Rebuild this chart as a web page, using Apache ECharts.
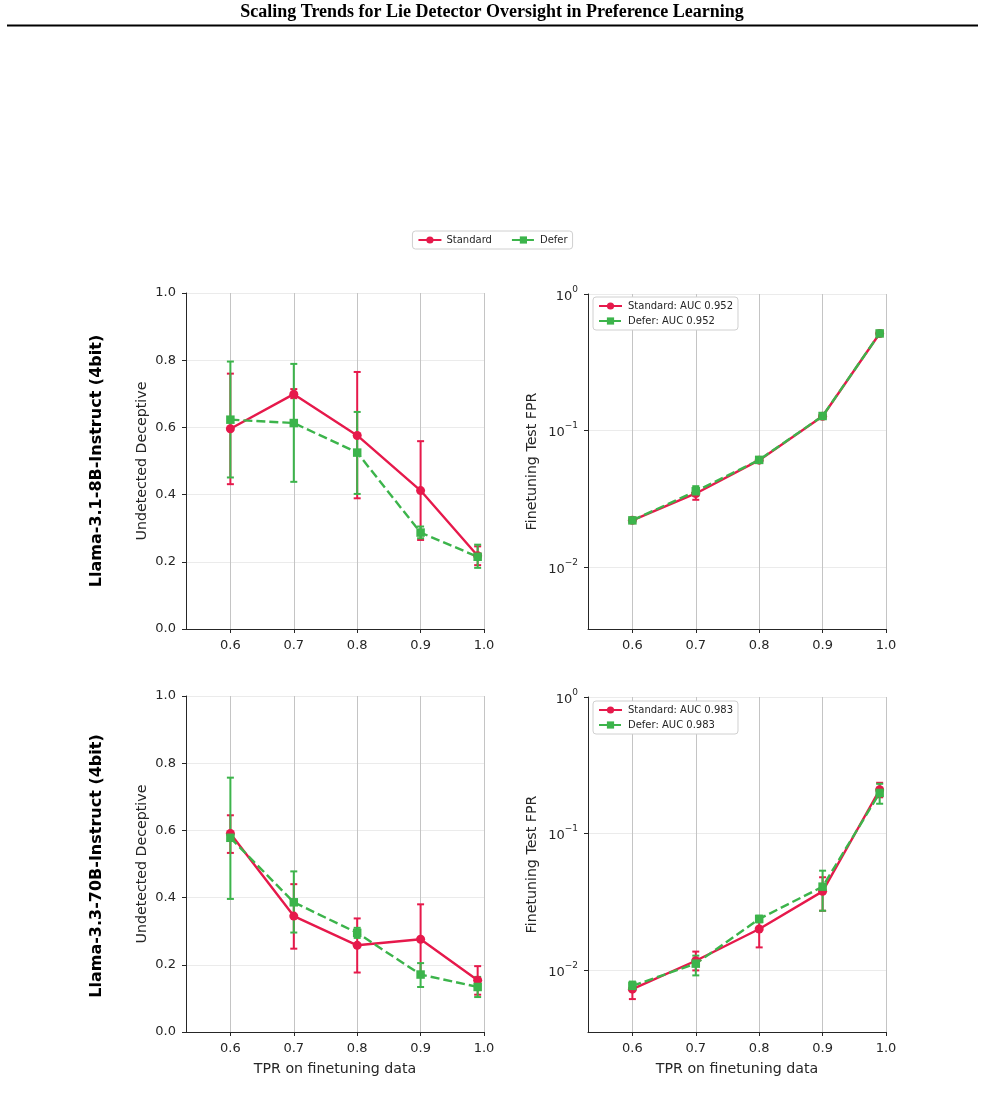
<!DOCTYPE html>
<html>
<head>
<meta charset="utf-8">
<script src="https://cdn.jsdelivr.net/npm/echarts@6/dist/echarts.min.js"></script>
<style>
  html, body { margin: 0; padding: 0; background: #fff; }
  #chart { width: 985px; height: 1101px; }
</style>
</head>
<body>
<div id="chart"></div>
<script>
// TPR thresholds on finetuning data
var tpr = [0.6, 0.7, 0.8, 0.9, 0.99];
var xTicks = [0.6, 0.7, 0.8, 0.9, 1.0];
var logTicks = [0.01, 0.1, 1];

// Llama-3.1-8B: undetected deceptive
var std8Und   = [0.596, 0.699, 0.576, 0.412, 0.218];
var std8UndLo = [0.431, 0.687, 0.389, 0.265, 0.190];
var std8UndHi = [0.760, 0.714, 0.765, 0.559, 0.246];
var def8Und   = [0.623, 0.613, 0.525, 0.287, 0.215];
var def8UndLo = [0.451, 0.438, 0.402, 0.270, 0.182];
var def8UndHi = [0.796, 0.789, 0.646, 0.305, 0.251];

// Llama-3.1-8B: finetuning test FPR
var std8Fpr   = [0.0219, 0.0345, 0.0605, 0.127, 0.513];
var std8FprLo = [0.0213, 0.0310, 0.0590, 0.124, 0.505];
var std8FprHi = [0.0225, 0.0380, 0.0620, 0.130, 0.521];
var def8Fpr   = [0.0219, 0.0358, 0.0608, 0.1275, 0.514];
var def8FprLo = [0.0213, 0.0330, 0.0592, 0.124, 0.505];
var def8FprHi = [0.0225, 0.0390, 0.0624, 0.131, 0.523];

// Llama-3.3-70B: undetected deceptive
var std70Und   = [0.591, 0.345, 0.258, 0.276, 0.154];
var std70UndLo = [0.533, 0.248, 0.177, 0.172, 0.111];
var std70UndHi = [0.645, 0.440, 0.338, 0.380, 0.196];
var def70Und   = [0.578, 0.386, 0.295, 0.171, 0.134];
var def70UndLo = [0.396, 0.296, 0.280, 0.134, 0.104];
var def70UndHi = [0.757, 0.478, 0.310, 0.205, 0.164];

// Llama-3.3-70B: finetuning test FPR
var std70Fpr   = [0.00721, 0.01165, 0.0199, 0.0376, 0.209];
var std70FprLo = [0.0061, 0.0099, 0.0146, 0.0271, 0.184];
var std70FprHi = [0.0079, 0.0136, 0.0242, 0.0477, 0.235];
var def70Fpr   = [0.00763, 0.0111, 0.0236, 0.0407, 0.198];
var def70FprLo = [0.0071, 0.0091, 0.0223, 0.0271, 0.165];
var def70FprHi = [0.0082, 0.0127, 0.0249, 0.0533, 0.231];

var auc8 = '0.952';
var auc70 = '0.983';
var rowLabels = ['Llama-3.1-8B-Instruct (4bit)', 'Llama-3.3-70B-Instruct (4bit)'];

var red = '#e6194b';
var green = '#3cb44b';
var ink = '#262626';
var font = 'DejaVu Sans';

function pts(ys) { return tpr.map(function(x, i) { return [x, ys[i]]; }); }

function errBars(idx, lo, hi, color) {
  return {
    type: 'custom', xAxisIndex: idx, yAxisIndex: idx, silent: true,
    data: tpr.map(function(x, i) { return [x, lo[i], hi[i]]; }),
    encode: { x: 0, y: [1, 2] },
    renderItem: function(params, api) {
      var x = api.value(0);
      var a = api.coord([x, api.value(1)]);
      var b = api.coord([x, api.value(2)]);
      var w = 3.5, st = { stroke: color, lineWidth: 2 };
      return { type: 'group', children: [
        { type: 'line', shape: { x1: a[0], y1: a[1], x2: b[0], y2: b[1] }, style: st },
        { type: 'line', shape: { x1: a[0] - w, y1: a[1], x2: a[0] + w, y2: a[1] }, style: st },
        { type: 'line', shape: { x1: b[0] - w, y1: b[1], x2: b[0] + w, y2: b[1] }, style: st }
      ] };
    }
  };
}

function lineSeries(idx, name, ys, color, dashed) {
  return {
    type: 'line', name: name, xAxisIndex: idx, yAxisIndex: idx,
    data: pts(ys),
    symbol: dashed ? 'rect' : 'circle', symbolSize: dashed ? 8.5 : 9,
    lineStyle: { color: color, width: 2.4, type: dashed ? [9, 4] : 'solid' },
    itemStyle: { color: color },
    emphasis: { disabled: true }
  };
}

var grids = [
  { left: 186, top: 293, width: 298, height: 336 },
  { left: 588, top: 294, width: 298, height: 335 },
  { left: 186, top: 696, width: 298, height: 336 },
  { left: 588, top: 697, width: 298, height: 335 }
];

var nameStyle = { color: ink, fontSize: 14.2, fontFamily: font };

function xAxis(idx, named) {
  return {
    type: 'value', gridIndex: idx, min: 0.53, max: 1.0,
    name: named ? 'TPR on finetuning data' : '', nameLocation: 'middle', nameGap: 30,
    nameTextStyle: nameStyle,
    axisLine: { show: true, lineStyle: { color: ink, width: 1 } },
    axisTick: { show: true, length: 4, lineStyle: { color: ink }, customValues: xTicks },
    axisLabel: { color: ink, fontSize: 13, fontFamily: font, margin: 10, customValues: xTicks,
      formatter: function(v) { return v.toFixed(1); } },
    splitLine: { show: true, lineStyle: { color: '#c4c4c4', width: 1 } }
  };
}

function linYAxis(idx) {
  return {
    type: 'value', gridIndex: idx, min: 0, max: 1, interval: 0.2,
    name: 'Undetected Deceptive', nameLocation: 'middle', nameGap: 37,
    nameTextStyle: nameStyle,
    axisLine: { show: true, lineStyle: { color: ink, width: 1 } },
    axisTick: { show: true, length: 4, lineStyle: { color: ink } },
    axisLabel: { color: ink, fontSize: 13, fontFamily: font, margin: 10,
      formatter: function(v) { return v.toFixed(1); } },
    splitLine: { show: true, lineStyle: { color: '#ebebeb', width: 1 } }
  };
}

function logYAxis(idx) {
  return {
    type: 'log', logBase: 10, gridIndex: idx, min: 0.0035, max: 1,
    name: 'Finetuning Test FPR', nameLocation: 'middle', nameGap: 49,
    nameTextStyle: nameStyle,
    axisLine: { show: true, lineStyle: { color: ink, width: 1 } },
    axisTick: { show: true, length: 4, lineStyle: { color: ink }, customValues: logTicks },
    axisLabel: { color: ink, fontSize: 13, fontFamily: font, margin: 10, customValues: logTicks,
      formatter: function(v) {
        var e = Math.round(Math.log10(v));
        return '{b|10}{s|' + (e < 0 ? '\u2212' + (-e) : e) + '}';
      },
      rich: {
        b: { fontSize: 13, fontFamily: font, color: ink, verticalAlign: 'bottom', lineHeight: 18 },
        s: { fontSize: 9, fontFamily: font, color: ink, verticalAlign: 'top', lineHeight: 18 }
      }
    },
    splitLine: { show: true, lineStyle: { color: '#ebebeb', width: 1 } }
  };
}

function innerLegend(names, left, top) {
  return {
    data: names, orient: 'vertical', left: left, top: top,
    padding: [4, 5], itemGap: 5, itemWidth: 23, itemHeight: 9,
    textStyle: { fontSize: 10, fontFamily: font, color: ink, padding: [0, 0, 0, 1] },
    borderColor: '#d0d0d0', borderWidth: 1, borderRadius: 3, backgroundColor: '#fff',
    selectedMode: false
  };
}

var s8 = 'Standard: AUC ' + auc8, d8 = 'Defer: AUC ' + auc8;
var s70 = 'Standard: AUC ' + auc70, d70 = 'Defer: AUC ' + auc70;

var chart = echarts.init(document.getElementById('chart'), null, { renderer: 'canvas' });
chart.setOption({
  animation: false,
  backgroundColor: '#fff',
  textStyle: { fontFamily: font },
  grid: grids,
  xAxis: [xAxis(0, false), xAxis(1, false), xAxis(2, true), xAxis(3, true)],
  yAxis: [linYAxis(0), logYAxis(1), linYAxis(2), logYAxis(3)],
  legend: [
    {
      data: ['Standard', 'Defer'], left: 'center', top: 231,
      padding: [4, 5], itemGap: 19, itemWidth: 23, itemHeight: 9,
      textStyle: { fontSize: 10, fontFamily: font, color: ink },
      borderColor: '#d0d0d0', borderWidth: 1, borderRadius: 3, backgroundColor: '#fff',
      selectedMode: false
    },
    innerLegend([s8, d8], 593, 297),
    innerLegend([s70, d70], 593, 701)
  ],
  series: [
    errBars(0, std8UndLo, std8UndHi, red),
    lineSeries(0, 'Standard', std8Und, red, false),
    errBars(0, def8UndLo, def8UndHi, green),
    lineSeries(0, 'Defer', def8Und, green, true),

    errBars(1, std8FprLo, std8FprHi, red),
    lineSeries(1, s8, std8Fpr, red, false),
    errBars(1, def8FprLo, def8FprHi, green),
    lineSeries(1, d8, def8Fpr, green, true),

    errBars(2, std70UndLo, std70UndHi, red),
    lineSeries(2, 'Standard', std70Und, red, false),
    errBars(2, def70UndLo, def70UndHi, green),
    lineSeries(2, 'Defer', def70Und, green, true),

    errBars(3, std70FprLo, std70FprHi, red),
    lineSeries(3, s70, std70Fpr, red, false),
    errBars(3, def70FprLo, def70FprHi, green),
    lineSeries(3, d70, def70Fpr, green, true)
  ],
  graphic: [
    { type: 'text', x: 492, y: 12, style: { text: 'Scaling Trends for Lie Detector Oversight in Preference Learning',
      font: 'bold 18px "Liberation Serif", "Times New Roman", serif', fill: '#000', align: 'center', verticalAlign: 'middle' } },
    { type: 'line', shape: { x1: 7, y1: 25.5, x2: 978, y2: 25.5 }, style: { stroke: '#000', lineWidth: 2 } },
    { type: 'text', x: 97, y: 461, rotation: Math.PI / 2, style: { text: rowLabels[0],
      font: 'bold 16px "DejaVu Sans"', fill: '#000', align: 'center', verticalAlign: 'middle' } },
    { type: 'text', x: 97, y: 866, rotation: Math.PI / 2, style: { text: rowLabels[1],
      font: 'bold 16px "DejaVu Sans"', fill: '#000', align: 'center', verticalAlign: 'middle' } }
  ]
});
</script>
</body>
</html>
